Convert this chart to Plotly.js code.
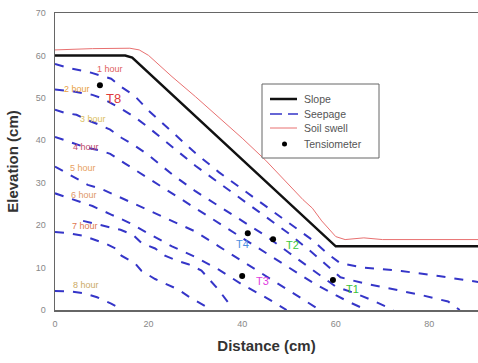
<!DOCTYPE html>
<html><head><meta charset="utf-8">
<script src="https://cdn.plot.ly/plotly-3.0.1.min.js"></script>
<style>html,body{margin:0;padding:0;background:#fff}#chart{width:478px;height:363px}</style>
</head><body><div id="chart"></div>
<script>
// Slope surface
const slopeX = [0, 15, 16.5, 60, 90.5];
const slopeY = [60, 60, 59.5, 15, 15];
// Soil swell surface
const swellX = [0, 8, 16, 18, 20, 25, 30, 35, 40, 45, 50, 53, 55, 57, 60, 62, 66, 70, 90.5];
const swellY = [61.3, 61.6, 61.7, 61.3, 60, 55, 50.3, 45.5, 40.5, 35.3, 29.5, 26, 24, 21, 17.3, 16.6, 17, 16.6, 16.6];
// Seepage fronts
const seep1X = [0, 3, 7.5, 12, 14, 17, 20, 25, 30, 35, 40, 45, 50, 55, 58, 61, 66, 74, 82, 90.5];
const seep1Y = [58, 57, 56, 54.5, 52.7, 50.5, 47, 42, 37, 32.5, 28.5, 24.5, 20.5, 16.5, 13.5, 11, 10, 9.2, 8, 6.6];
const seep2X = [0, 4, 8, 10.3, 14.5, 17, 20, 25, 30, 35, 40, 45, 50, 55, 58, 61, 66, 72, 78, 84, 86.5];
const seep2Y = [52, 51.5, 50.7, 49.8, 47.2, 45.5, 43, 38.5, 34, 30, 26, 22, 18, 13.5, 10.5, 7.7, 6.3, 5, 3.6, 2, 0];
const seep3X = [0, 2, 4.6, 6.8, 9.6, 11.8, 14.2, 16.7, 20, 25, 30, 35, 40, 45, 50, 55, 60, 64, 68, 72.3];
const seep3Y = [47.2, 46.5, 46, 44.8, 43.6, 42.5, 40.6, 39, 36.5, 32, 28, 24.5, 21, 17.5, 13.5, 9.5, 5.5, 4, 2.2, 0];
const seep4X = [0, 2, 6.6, 9.6, 11.8, 15, 20, 25, 30, 35, 40, 45, 50, 55, 60, 63, 66.6];
const seep4Y = [40.8, 40, 38.3, 37.6, 36.8, 34.5, 31, 27.5, 24, 20.5, 17, 13.5, 10, 6.5, 3.5, 1.8, 0];
const seep5X = [0, 3, 7, 10, 15, 20, 25, 30, 35, 40, 45, 50, 53, 56.6];
const seep5Y = [33.8, 32, 29.5, 28.5, 26, 23.5, 21, 18.5, 15, 11.5, 8, 4.5, 2.5, 0];
const seep6X = [0, 4, 8, 12, 16, 20, 25, 30, 35, 40, 45, 49.5];
const seep6Y = [27.5, 26, 24.5, 22.5, 20.5, 18, 15, 12.5, 9.5, 6, 3, 0];
const seepExtraX = [6, 10, 14, 16.7, 18.5, 21.4, 23.5, 26.4, 28.5, 31.3, 33, 35, 38];
const seepExtraY = [21, 20, 18.9, 17.7, 15.8, 14.5, 12.8, 11.5, 10.8, 9.3, 7.3, 4.7, 0.3];
const seep7X = [0, 3, 6, 10.7, 13.5, 14.2, 17.1, 18.5, 21.4, 23.5, 26.4, 28.5, 31.3, 33.5];
const seep7Y = [18.4, 18.1, 17.5, 15.7, 14.2, 12.8, 11, 9.2, 7.3, 6.3, 4.8, 3.2, 1.3, 0];
const seep8X = [0, 3, 6, 9, 12, 14.5];
const seep8Y = [4.5, 4.4, 4, 3, 1.5, 0];
// Tensiometers
const tensX = [9.6, 41.2, 46.6, 40, 59.4];
const tensY = [53, 18.1, 16.7, 8, 7.1];
const tensNames = ['T8', 'T4', 'T2', 'T3', 'T1'];
const tensLabelX = [12.4, 40, 50.8, 44.3, 63.6];
const tensLabelY = [49.8, 15.6, 15.3, 6.8, 5];
const tensColors = ['#e03a3a', '#4a8ee0', '#3cc83c', '#e040e0', '#38c038'];
// Hour labels
const hourNames = ['1 hour', '2 hour', '3 hour', '4 hour', '5 hour', '6 hour', '7 hour', '8 hour'];
const hourX = [11.8, 4.8, 8.1, 6.6, 6.0, 6.2, 6.4, 6.6];
const hourY = [56.8, 52.2, 45, 38.5, 33.5, 27.2, 19.8, 6.0];
const hourColors = ['#e06060', '#e8a040', '#dcc060', '#c04868', '#e8a060', '#e09868', '#e07850', '#ccaa66'];
// Legend entries
const legendNames = ['Slope', 'Seepage', 'Soil swell', 'Tensiometer'];

const seepX = [seep1X, seep2X, seep3X, seep4X, seep5X, seep6X, seepExtraX, seep7X, seep8X];
const seepY = [seep1Y, seep2Y, seep3Y, seep4Y, seep5Y, seep6Y, seepExtraY, seep7Y, seep8Y];

const SEEP_COLOR = '#3535c8', SLOPE_COLOR = '#111', SWELL_COLOR = '#e87070';
const traces = [];
traces.push({x: slopeX, y: slopeY, mode: 'lines', name: legendNames[0], line: {color: SLOPE_COLOR, width: 2.5}});
seepX.forEach((xs, i) => {
  traces.push({x: xs, y: seepY[i], mode: 'lines', name: legendNames[1],
    line: {color: SEEP_COLOR, width: 2, dash: '9px,9px'}});
});
traces.push({x: swellX, y: swellY, mode: 'lines', name: legendNames[2], line: {color: SWELL_COLOR, width: 1}});
traces.push({x: tensX, y: tensY, mode: 'markers', name: legendNames[3], marker: {color: '#000', size: 6}});

const FONT = 'Arial, Liberation Sans';
const annotations = [];
hourNames.forEach((t, i) => annotations.push({x: hourX[i], y: hourY[i], xref: 'x', yref: 'y', text: t,
  showarrow: false, font: {family: FONT, size: 9, color: hourColors[i]}}));
tensNames.forEach((t, i) => annotations.push({x: tensLabelX[i], y: tensLabelY[i], xref: 'x', yref: 'y', text: t,
  showarrow: false, font: {family: FONT, size: i === 0 ? 13 : 11, color: tensColors[i]}}));

// Hand-built legend box (paper coordinates, pixel based)
const W = 423, H = 297, L = 55, B = 310;
const px = v => (v - L) / W;
const py = v => (B - v) / H;
const shapes = [];
shapes.push({type: 'rect', xref: 'paper', yref: 'paper', x0: px(262), x1: px(379), y0: py(158), y1: py(84),
  line: {color: '#666', width: 1}, fillcolor: '#fff', layer: 'above'});
const rowY = [99, 114, 128, 144];
shapes.push({type: 'line', xref: 'paper', yref: 'paper', x0: px(270), x1: px(297), y0: py(rowY[0]), y1: py(rowY[0]),
  line: {color: SLOPE_COLOR, width: 2.5}, layer: 'above'});
shapes.push({type: 'line', xref: 'paper', yref: 'paper', x0: px(270), x1: px(298), y0: py(rowY[1]), y1: py(rowY[1]),
  line: {color: SEEP_COLOR, width: 1.5, dash: '12px,6px'}, layer: 'above'});
shapes.push({type: 'line', xref: 'paper', yref: 'paper', x0: px(270), x1: px(297), y0: py(rowY[2]), y1: py(rowY[2]),
  line: {color: SWELL_COLOR, width: 1}, layer: 'above'});
shapes.push({type: 'circle', xref: 'paper', yref: 'paper', x0: px(282), x1: px(287), y0: py(146.5), y1: py(141.5),
  line: {color: '#000', width: 0}, fillcolor: '#000', layer: 'above'});
legendNames.forEach((t, i) => annotations.push({x: px(302), y: py(rowY[i]), xref: 'paper', yref: 'paper',
  xanchor: 'left', yanchor: 'middle', text: t, showarrow: false, font: {family: FONT, size: 10.5, color: '#555'}}));

const layout = {
  width: 478, height: 363,
  margin: {l: 55, r: 0, t: 13, b: 53},
  paper_bgcolor: '#fff', plot_bgcolor: '#fff',
  showlegend: false,
  xaxis: {range: [0, 90.4], tickvals: [0, 20, 40, 60, 80], showgrid: false, zeroline: false,
    showline: true, linecolor: '#666', linewidth: 1.5, mirror: true, ticks: '', ticklabelstandoff: 5,
    tickfont: {family: FONT, size: 9, color: '#888'},
    title: {text: '<b>Distance (cm)</b>', font: {family: FONT, size: 15, color: '#333'}, standoff: 12}},
  yaxis: {range: [0, 70], tickvals: [0, 10, 20, 30, 40, 50, 60, 70], showgrid: false, zeroline: false,
    showline: true, linecolor: '#666', linewidth: 1.5, ticks: '', ticklabelstandoff: 6,
    tickfont: {family: FONT, size: 9, color: '#888'},
    title: {text: '<b>Elevation (cm)</b>', font: {family: FONT, size: 15, color: '#333'}, standoff: 13}},
  annotations: annotations,
  shapes: shapes
};
Plotly.newPlot('chart', traces, layout, {staticPlot: true, displayModeBar: false});
</script></body></html>
